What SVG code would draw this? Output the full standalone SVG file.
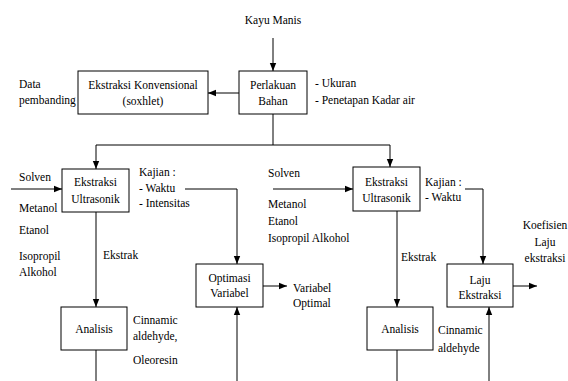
<svg xmlns="http://www.w3.org/2000/svg" width="568" height="381" viewBox="0 0 568 381">
<defs>
<marker id="ah" markerUnits="userSpaceOnUse" markerWidth="8" markerHeight="8" viewBox="0 0 8 8" refX="8" refY="4" orient="auto">
<path d="M0,0.8 L8,4 L0,7.2 Z" fill="#000"/>
</marker>
</defs>
<style>
text{font-size:11.5px;fill:#000}
.c{text-anchor:middle}
rect{fill:#fff;stroke:#000;stroke-width:1}
.ln{fill:none;stroke:#000;stroke-width:1}
.ar{fill:none;stroke:#000;stroke-width:1;marker-end:url(#ah)}
</style>
<rect x="0" y="0" width="568" height="381" style="stroke:none"/>
<g id="connectors">
<line class="ar" x1="273" y1="38" x2="273" y2="71"/>
<line class="ar" x1="239" y1="93" x2="208" y2="93"/>
<polyline class="ln" points="273,114 273,145"/>
<polyline class="ar" points="96,145 96,169"/>
<polyline class="ln" points="96,145 390,145"/>
<polyline class="ar" points="390,145 390,167"/>
<line class="ar" x1="11" y1="189" x2="62" y2="189"/>
<polyline class="ar" points="185,189 237,189 237,264"/>
<line class="ar" x1="96" y1="212" x2="96" y2="307"/>
<line class="ln" x1="96" y1="350" x2="96" y2="381"/>
<line class="ar" x1="237" y1="381" x2="237" y2="307"/>
<line class="ar" x1="263" y1="286" x2="287" y2="286"/>
<line class="ar" x1="273" y1="189" x2="353" y2="189"/>
<polyline class="ar" points="465,189 483,189 483,264"/>
<line class="ar" x1="397" y1="211" x2="397" y2="307"/>
<line class="ln" x1="397" y1="350" x2="397" y2="381"/>
<line class="ar" x1="489" y1="381" x2="489" y2="307"/>
<line class="ar" x1="513" y1="286" x2="537" y2="286"/>
</g>
<g font-family="Liberation Serif, Times New Roman, Tinos, DejaVu Serif, serif">
<g id="kayu-manis"><text class="c" x="273" y="24">Kayu Manis</text></g>
<g id="ekstraksi-konvensional">
<rect x="78" y="71" width="130" height="43"/>
<text class="c" x="143" y="89">Ekstraksi Konvensional</text>
<text class="c" x="143" y="105">(soxhlet)</text>
</g>
<g id="data-pembanding"><text x="19" y="88">Data</text><text x="19" y="104">pembanding</text></g>
<g id="perlakuan-bahan">
<rect x="239" y="71" width="68" height="43"/>
<text class="c" x="273" y="89">Perlakuan</text>
<text class="c" x="273" y="105">Bahan</text>
</g>
<g id="perlakuan-notes"><text x="315" y="87">- Ukuran</text><text x="315" y="104">- Penetapan Kadar air</text></g>
<g id="ekstraksi-ultrasonik-1">
<rect x="62" y="169" width="67" height="43"/>
<text class="c" x="95.5" y="186">Ekstraksi</text>
<text class="c" x="95.5" y="203">Ultrasonik</text>
</g>
<g id="solven-1">
<text x="19" y="181">Solven</text>
<text x="19" y="212">Metanol</text>
<text x="19" y="234">Etanol</text>
<text x="19" y="260">Isopropil</text>
<text x="19" y="276">Alkohol</text>
</g>
<g id="kajian-1"><text x="139" y="176">Kajian :</text><text x="139" y="192">- Waktu</text><text x="139" y="207">- Intensitas</text></g>
<g id="ekstrak-1"><text x="103" y="259">Ekstrak</text></g>
<g id="optimasi-variabel">
<rect x="196" y="264" width="67" height="43"/>
<text class="c" x="229.5" y="282">Optimasi</text>
<text class="c" x="229.5" y="297">Variabel</text>
</g>
<g id="variabel-optimal"><text x="293" y="292">Variabel</text><text x="293" y="307">Optimal</text></g>
<g id="analisis-1">
<rect x="61" y="307" width="66" height="43"/>
<text class="c" x="94" y="333">Analisis</text>
</g>
<g id="hasil-1"><text x="133" y="324">Cinnamic</text><text x="133" y="340">aldehyde,</text><text x="133" y="364">Oleoresin</text></g>
<g id="ekstraksi-ultrasonik-2">
<rect x="353" y="167" width="67" height="44"/>
<text class="c" x="386.5" y="186">Ekstraksi</text>
<text class="c" x="386.5" y="202">Ultrasonik</text>
</g>
<g id="solven-2">
<text x="268" y="177">Solven</text>
<text x="268" y="208">Metanol</text>
<text x="268" y="225">Etanol</text>
<text x="268" y="242">Isopropil Alkohol</text>
</g>
<g id="kajian-2"><text x="425" y="186">Kajian :</text><text x="425" y="201">- Waktu</text></g>
<g id="ekstrak-2"><text x="401" y="261">Ekstrak</text></g>
<g id="laju-ekstraksi">
<rect x="447" y="264" width="66" height="43"/>
<text class="c" x="480" y="284">Laju</text>
<text class="c" x="480" y="299">Ekstraksi</text>
</g>
<g id="koefisien"><text class="c" x="545" y="229">Koefisien</text><text class="c" x="545" y="246">Laju</text><text class="c" x="545" y="262">ekstraksi</text></g>
<g id="analisis-2">
<rect x="367" y="307" width="66" height="43"/>
<text class="c" x="400" y="333">Analisis</text>
</g>
<g id="hasil-2"><text x="438" y="334">Cinnamic</text><text x="438" y="352">aldehyde</text></g>
</g>
</svg>
